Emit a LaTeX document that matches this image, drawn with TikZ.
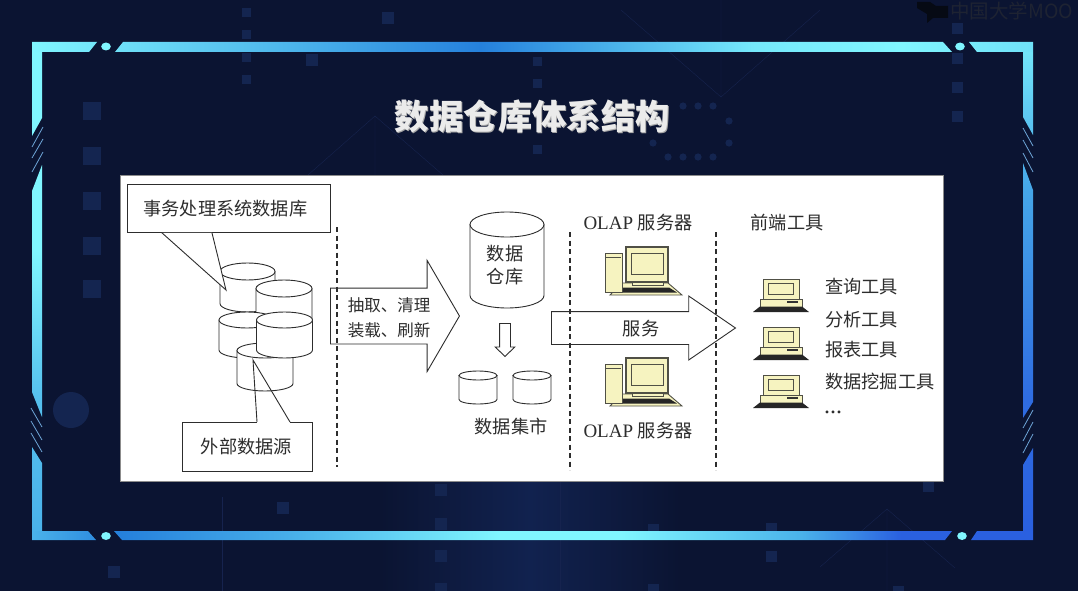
\documentclass[tikz,border=0pt]{standalone}
\usepackage{xcolor}
\usepackage{fontspec}
\setmainfont{Liberation Serif}
\newfontfamily\cjk{Noto Sans CJK SC}
\usetikzlibrary{positioning,shapes.geometric,shapes.arrows,calc}
\definecolor{bgnavy}{RGB}{11,20,50}
\definecolor{bgglow}{RGB}{17,34,79}
\definecolor{decoblue}{RGB}{20,37,80}
\definecolor{decoline}{RGB}{22,35,78}
\definecolor{barcyan}{RGB}{128,246,255}
\definecolor{barsky}{RGB}{74,178,234}
\definecolor{barmid}{RGB}{37,128,220}
\definecolor{barroyal}{RGB}{42,96,224}
\definecolor{stripeblue}{RGB}{110,165,215}
\definecolor{inkgray}{RGB}{45,45,45}
\definecolor{pcyellow}{RGB}{246,243,192}
\definecolor{pcedge}{RGB}{80,80,70}
\definecolor{markdark}{RGB}{6,10,20}
\definecolor{marktext}{RGB}{30,35,50}
\pgfdeclarehorizontalshading{topbar}{100bp}{color(0bp)=(barcyan); color(25bp)=(barcyan); color(38.4bp)=(barsky); color(47.4bp)=(barmid); color(54bp)=(barsky); color(61bp)=(barcyan!80!barsky); color(68.4bp)=(barcyan); color(75bp)=(barcyan!70!barsky); color(100bp)=(barcyan!70!barsky)}
\pgfdeclarehorizontalshading{bottombar}{100bp}{color(0bp)=(barsky); color(25bp)=(barsky); color(29.4bp)=(barmid); color(38.4bp)=(barsky); color(48.4bp)=(barcyan); color(54.4bp)=(barcyan); color(63.4bp)=(barsky); color(68.4bp)=(barroyal); color(75bp)=(barroyal); color(100bp)=(barroyal)}
\pgfdeclareverticalshading{leftbar}{100bp}{color(0bp)=(barsky); color(25bp)=(barsky); color(38.7bp)=(barsky!80!barcyan); color(54.3bp)=(barcyan); color(75bp)=(barcyan); color(100bp)=(barcyan)}
\pgfdeclareverticalshading{rightbar}{100bp}{color(0bp)=(barroyal); color(25bp)=(barroyal); color(38.7bp)=(barroyal!85!barsky); color(60.6bp)=(barsky!85!barroyal); color(75bp)=(barcyan!75!barsky); color(100bp)=(barcyan!75!barsky)}
\tikzset{
  label18/.style ={font=\cjk\fontsize{18.2}{23}\selectfont, text=inkgray, align=center, inner sep=0pt},
  label16/.style ={font=\cjk\fontsize{16.5}{25}\selectfont, text=inkgray, align=left, inner sep=0pt},
  olap/.style    ={font=\fontsize{19}{22}\selectfont, text=inkgray, inner sep=0pt},
  callbox/.style ={rectangle, draw=inkgray, fill=white, line width=0.9pt, inner sep=0pt, label18},
  bigarrow/.style={single arrow, draw=inkgray, line width=0.9pt, anchor=tail},
  divider/.style ={draw=inkgray, dashed, dash pattern=on 5pt off 3.5pt, line width=1.1pt},
  tail/.style    ={draw=inkgray, line width=0.9pt},
  square/.style  ={fill=decoblue},
  pics/dbcyl/.style n args={3}{code={
    \path[draw=inkgray, fill=white, line width=0.9pt] (-#1,#3) -- (-#1,#2-#3) arc[start angle=180, end angle=0, x radius=#1, y radius=#3] -- (#1,#3) -- cycle;
    \path[draw=inkgray, fill=white, line width=0.9pt] (0,#3) ellipse (#1 and #3);
  }},
  serverpc/.pic={
    \path[draw=pcedge, fill=pcyellow, line width=0.9pt] (17,30) -- (63,30) -- (77,42) -- (5,42) -- cycle;
    \fill[black!85] (15,34.5) -- (64,34.5) -- (72,39.5) -- (10,39.5) -- cycle;
    \path[draw=pcedge, fill=pcyellow, line width=1pt] (0,0) rectangle (17,39);
    \draw[pcedge, line width=1pt] (1,4) -- (16,4);
    \path[draw=pcedge, fill=pcyellow, line width=1pt] (27,24) rectangle (58,32);
    \path[draw=pcedge, fill=pcyellow, line width=1.1pt] (21,-6) rectangle (63,29);
    \path[draw=pcedge, line width=1pt] (26,0) rectangle (58,21);
  },
  clientpc/.pic={
    \path[draw=pcedge, fill=pcyellow, line width=1pt] (10,0) rectangle (46,20);
    \path[draw=pcedge, line width=0.9pt] (15,4.5) rectangle (40,15.5);
    \path[draw=pcedge, fill=pcyellow, line width=1pt] (7,20) rectangle (49,28);
    \fill[black!80] (34,21.5) rectangle (45,24);
    \fill[black!85] (7,27.5) -- (49,27.5) -- (56,33) -- (0,33) -- cycle;
  },
}
\begin{document}
\begin{tikzpicture}[x=1pt,y=-1pt]
\useasboundingbox (0,0) rectangle (1078,591);
% backdrop
\fill[bgnavy] (0,0) rectangle (1078,591);
\shade[left color=bgnavy, right color=bgglow] (380,481) rectangle (530,591);
\shade[left color=bgglow, right color=bgnavy] (530,481) rectangle (680,591);
\foreach \x/\y/\s in {83/102/18,83/147/18,83/192/18,83/237/18,83/280/18,242/8/9,242/30/9,242/53/9,242/75/9,
  952/23/11,952/53/11,952/82/11,952/111/11,382/12/12,306/54/12,533/57/9,533/79/9,533/145/9,
  435/484/12,435/518/12,435/550/12,435/583/12,648/524/11,648/584/11,766/523/11,766/551/11,
  923/481/11,893/586/11,277/502/12,108/566/12}
  \fill[square] (\x,\y) rectangle ++(\s,\s);
\fill[decoblue] (71,410) circle (18);
\foreach \x/\y in {683/106,698/106,713/106,729/121,729/143,653/143,668/157,683/157,698/157,713/157}
  \fill[decoblue] (\x,\y) circle (3.6);
\draw[decoline] (621,10) -- (721,97) -- (820,10) (721,0) -- (721,97);
\draw[decoline] (308,175) -- (375,116) -- (443,175) (375,116) -- (375,175);
\draw[decoline] (820,567) -- (887,509) -- (955,568) (887,509) -- (887,591);
\draw[decoline] (222,497) -- (222,591) (560,481) -- (560,591);
% frame
\shade[shading=topbar] (32,42) -- (97,42) -- (89,52) -- (32,52) -- cycle
  (123,42) -- (943,42) -- (952,52) -- (115,52) -- cycle
  (969,42) -- (1033,42) -- (1033,52) -- (977,52) -- cycle;
\shade[shading=bottombar] (32,531) -- (88,531) -- (96,540) -- (32,540) -- cycle
  (114,531) -- (952,531) -- (945,540) -- (122,540) -- cycle
  (977,531) -- (1033,531) -- (1033,540) -- (971,540) -- cycle;
\shade[shading=leftbar] (32,52) -- (42,52) -- (42,118) -- (32,136) -- cycle
  (42,165) -- (42,417) -- (32,392) -- (32,191) -- cycle
  (32,447) -- (42,463) -- (42,531) -- (32,531) -- cycle;
\shade[shading=rightbar] (1023,52) -- (1033,52) -- (1033,135) -- (1023,117) -- cycle
  (1023,163) -- (1033,190) -- (1033,402) -- (1023,418) -- cycle
  (1023,465) -- (1033,448) -- (1033,531) -- (1023,531) -- cycle;
\foreach \a/\b/\c/\d in {32/147/43/127,32/158/43/139,32/172/43/152,31/408/42/427,31/421/42/440,31/433/42/452,
  1023/128/1033/146,1023/140/1033/158,1023/153/1033/172,1023/428/1033/410,1023/441/1033/422,1023/453/1033/434}
  \draw[stripeblue, line width=0.8pt] (\a,\b) -- (\c,\d);
\fill[barcyan] (106,46.5) ellipse (4.8 and 4);
\fill[barcyan] (960,46.5) ellipse (4.8 and 4);
\fill[barcyan] (106,536) ellipse (4.8 and 4);
\fill[barcyan] (962,536) ellipse (4.8 and 4);
% mark and title
\fill[markdark] (917,2) -- (930,2) -- (936,6) -- (948,6) -- (948,18) -- (933,18) -- (927,23) -- (927,14) -- (917,8) -- cycle;
\node[anchor=west, inner sep=0pt, text=marktext, font=\cjk\fontsize{19.5}{22}\selectfont] (mooc) at (950,11) {中国大学MOO};
\node[text=black!35, font=\cjk\bfseries\fontsize{34.4}{36}\selectfont, inner sep=0pt] (titleback) at (533.2,117) {数据仓库体系结构};
\node[text=white!92!black, font=\cjk\bfseries\fontsize{34.4}{36}\selectfont, inner sep=0pt] (title) at (532.4,116) {数据仓库体系结构};
% panel
\node[rectangle, draw=black!45, fill=white, line width=0.8pt, inner sep=0pt, minimum width=823, minimum height=306, anchor=north west] (panel) at (120,175) {};
% source side
\pic (dba) at (247.5,263) {dbcyl={27.5}{49}{8.5}};
\pic (dbb) at (284,280) {dbcyl={28}{50}{8.5}};
\pic (dbc) at (247,312) {dbcyl={28}{46}{8}};
\pic (dbe) at (265,343) {dbcyl={28}{48}{7.5}};
\pic (dbd) at (284.5,312) {dbcyl={28}{46}{8}};
\node[callbox, minimum width=203, minimum height=48, anchor=north west] (trans) at (127,184) {事务处理系统数据库\hspace*{7pt}};
\coordinate (transtip) at (226,290);
\fill[white] ([xshift=35pt]trans.south west) -- (transtip) -- ([xshift=85pt]trans.south west) -- cycle;
\draw[tail] ([xshift=35pt]trans.south west) -- (transtip) -- ([xshift=85pt]trans.south west);
\node[callbox, minimum width=130, minimum height=49, anchor=north west] (extern) at (182,422) {外部数据源\hspace*{2pt}};
\coordinate (externtip) at (253,360);
\draw[white, line width=1.6pt] ([xshift=75pt]extern.north west) -- ([xshift=108pt]extern.north west);
\draw[tail] ([xshift=75pt]extern.north west) -- (externtip) -- ([xshift=108pt]extern.north west);
% dividers
\foreach \n/\x/\t/\b in {one/337/227/467,two/570/232/470,three/716/232/470} {
  \coordinate (\n top) at (\x,\t);
  \coordinate (\n bot) at (\x,\b);
  \draw[divider] (\n top) -- (\n bot);
}
% block arrows
\node[bigarrow, inner sep=27.5pt, minimum height=129, minimum width=110, single arrow head extend=27.5, single arrow tip angle=119.6] (etl) at (330,316) {};
\node[label16, anchor=center, align=left] (etltext) at (389,317.5) {抽取、清理\\装载、刷新};
\node[bigarrow, inner sep=16pt, minimum height=184, minimum width=63, single arrow head extend=15.5, single arrow tip angle=68.8] (serve) at (551,328) {};
\node[label18] (servetext) at (641,329) {服务};
\node[bigarrow, inner sep=5pt, shape border rotate=270, minimum height=33, minimum width=18.6, single arrow head extend=4.3, single arrow tip angle=92] (down) at (505,323) {};
% warehouse and marts
\pic (dw) at (507,212) {dbcyl={37}{96}{12.5}};
\node[label18] (dwtext) at (505,265.5) {数据\\仓库};
\pic (marta) at (478,371) {dbcyl={19}{33}{4.5}};
\pic (martb) at (532,371) {dbcyl={19}{33}{4.5}};
\node[label18] (marttext) at (511,427) {数据集市};
% servers
\node[olap] (olaptop) at (638,223) {OLAP {\cjk\fontsize{18.2}{20}\selectfont 服务器}};
\node[olap] (olapbot) at (638,431) {OLAP {\cjk\fontsize{18.2}{20}\selectfont 服务器}};
\pic (srvtop) at (605,253) {serverpc};
\pic (srvbot) at (605,364) {serverpc};
% front end
\node[label18] (front) at (787,223) {前端工具};
\foreach \n/\y in {pca/279,pcb/327,pcc/375}
  \pic (\n) at (753,\y) {clientpc};
\foreach \n/\y/\t in {query/287/查询工具,analyse/320/分析工具,report/350/报表工具,mining/382/数据挖掘工具}
  \node[label18, anchor=west] (\n) at (825,\y) {\t};
\node[label18, anchor=west, font=\fontsize{24}{26}\selectfont] (more) at (824,412) {...};
\end{tikzpicture}
\end{document}
